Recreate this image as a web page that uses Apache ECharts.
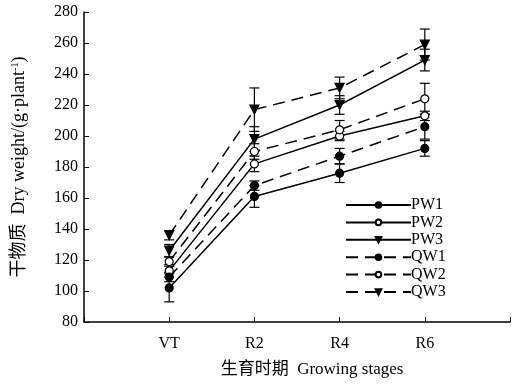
<!DOCTYPE html>
<html><head><meta charset="utf-8">
<script src="https://cdn.jsdelivr.net/npm/echarts@6/dist/echarts.min.js"></script>
<style>html,body{margin:0;padding:0;background:#fff}#c{width:513px;height:384px}</style>
</head><body><div id="c"></div>
<script>
const stages = ['VT', 'R2', 'R4', 'R6'];
const seriesNames = ['PW1', 'PW2', 'PW3', 'QW1', 'QW2', 'QW3'];
const PW1 = [102, 161, 176, 192];
const PW2 = [113, 182, 200, 213];
const PW3 = [126, 198, 220, 249];
const QW1 = [109, 168, 187, 206];
const QW2 = [119, 190, 204, 224];
const QW3 = [136, 217, 231, 259];
const PW1_err = [9, 7, 6, 5];
const PW2_err = [4, 5, 3, 3];
const PW3_err = [4, 8, 6, 7];
const QW1_err = [3, 3, 5, 8];
const QW2_err = [3, 5, 6, 10];
const QW3_err = [3, 14, 7, 10];
const yMin = 80, yMax = 280, yStep = 20;

const values = [PW1, PW2, PW3, QW1, QW2, QW3];
const errs = [PW1_err, PW2_err, PW3_err, QW1_err, QW2_err, QW3_err];
const FONT = "'Liberation Serif','Times New Roman',serif";

function errRender(params, api) {
  const x = api.value(0), y = api.value(1), e = api.value(2);
  const t = api.coord([x, y + e]), b = api.coord([x, y - e]);
  const w = 5, st = {stroke: '#000', lineWidth: 1.2};
  return {type: 'group', children: [
    {type: 'line', shape: {x1: t[0], y1: t[1], x2: b[0], y2: b[1]}, style: st},
    {type: 'line', shape: {x1: t[0] - w, y1: t[1], x2: t[0] + w, y2: t[1]}, style: st},
    {type: 'line', shape: {x1: b[0] - w, y1: b[1], x2: b[0] + w, y2: b[1]}, style: st}
  ]};
}

const series = [];
seriesNames.forEach((name, i) => {
  const isQ = name[0] === 'Q';
  const kind = i % 3;
  const symbol = kind === 2 ? 'triangle' : 'circle';
  series.push({
    type: 'custom', name: name + '_err', renderItem: errRender, z: 1,
    data: values[i].map((v, j) => [j + 1, v, errs[i][j]]),
    silent: true
  });
  series.push({
    type: 'line', name: name, z: 3,
    data: values[i].map((v, j) => [j + 1, v]),
    symbol: symbol,
    symbolRotate: kind === 2 ? 180 : 0,
    symbolSize: kind === 2 ? 9 : 8,
    showAllSymbol: true,
    lineStyle: {color: '#000', width: 1.5, type: isQ ? [12, 7] : 'solid'},
    itemStyle: {color: kind === 1 ? '#fff' : '#000', borderColor: '#000', borderWidth: 1.2},
    emphasis: {disabled: true}
  });
});

const chart = echarts.init(document.getElementById('c'));
chart.setOption({
  animation: false,
  backgroundColor: '#fff',
  grid: {left: 84, right: 0, top: 12, bottom: 62},
  legend: {
    data: seriesNames,
    orient: 'vertical', left: 340, top: 192,
    itemWidth: 65, itemHeight: 7, itemGap: 1.4,
    textStyle: {fontFamily: FONT, fontSize: 16, lineHeight: 16, color: '#000', padding: [0, 0, 0, -5]}
  },
  xAxis: {
    type: 'value', min: 0, max: 5, interval: 1,
    axisLine: {lineStyle: {color: '#000', width: 1.5}},
    axisTick: {inside: true, length: 5, lineStyle: {color: '#000'}},
    splitLine: {show: false},
    axisLabel: {
      fontFamily: FONT, fontSize: 16, color: '#000', margin: 14,
      formatter: v => (v >= 1 && v <= stages.length) ? stages[v - 1] : ''
    },
    name: '生育时期  Growing stages', nameLocation: 'middle', nameGap: 39,
    nameTextStyle: {fontFamily: FONT + ",'Noto Sans CJK SC'", fontSize: 17, color: '#000', padding: [0, 0, 0, 30]}
  },
  yAxis: {
    type: 'value', min: yMin, max: yMax, interval: yStep,
    axisLine: {show: true, lineStyle: {color: '#000', width: 1.5}},
    axisTick: {show: true, inside: true, length: 5, lineStyle: {color: '#000'}},
    splitLine: {show: false},
    axisLabel: {fontFamily: FONT, fontSize: 16, color: '#000', margin: 6},
    name: '{a|干物质  Dry weight/(g·plant}{s|-1}{a|)}', nameLocation: 'middle', nameGap: 56,
    nameTextStyle: {
      rich: {
        a: {fontFamily: FONT + ",'Noto Sans CJK SC'", fontSize: 18, color: '#000'},
        s: {fontFamily: FONT, fontSize: 10, color: '#000', verticalAlign: 'top', lineHeight: 18}
      }
    }
  },
  series: series
});
</script></body></html>
